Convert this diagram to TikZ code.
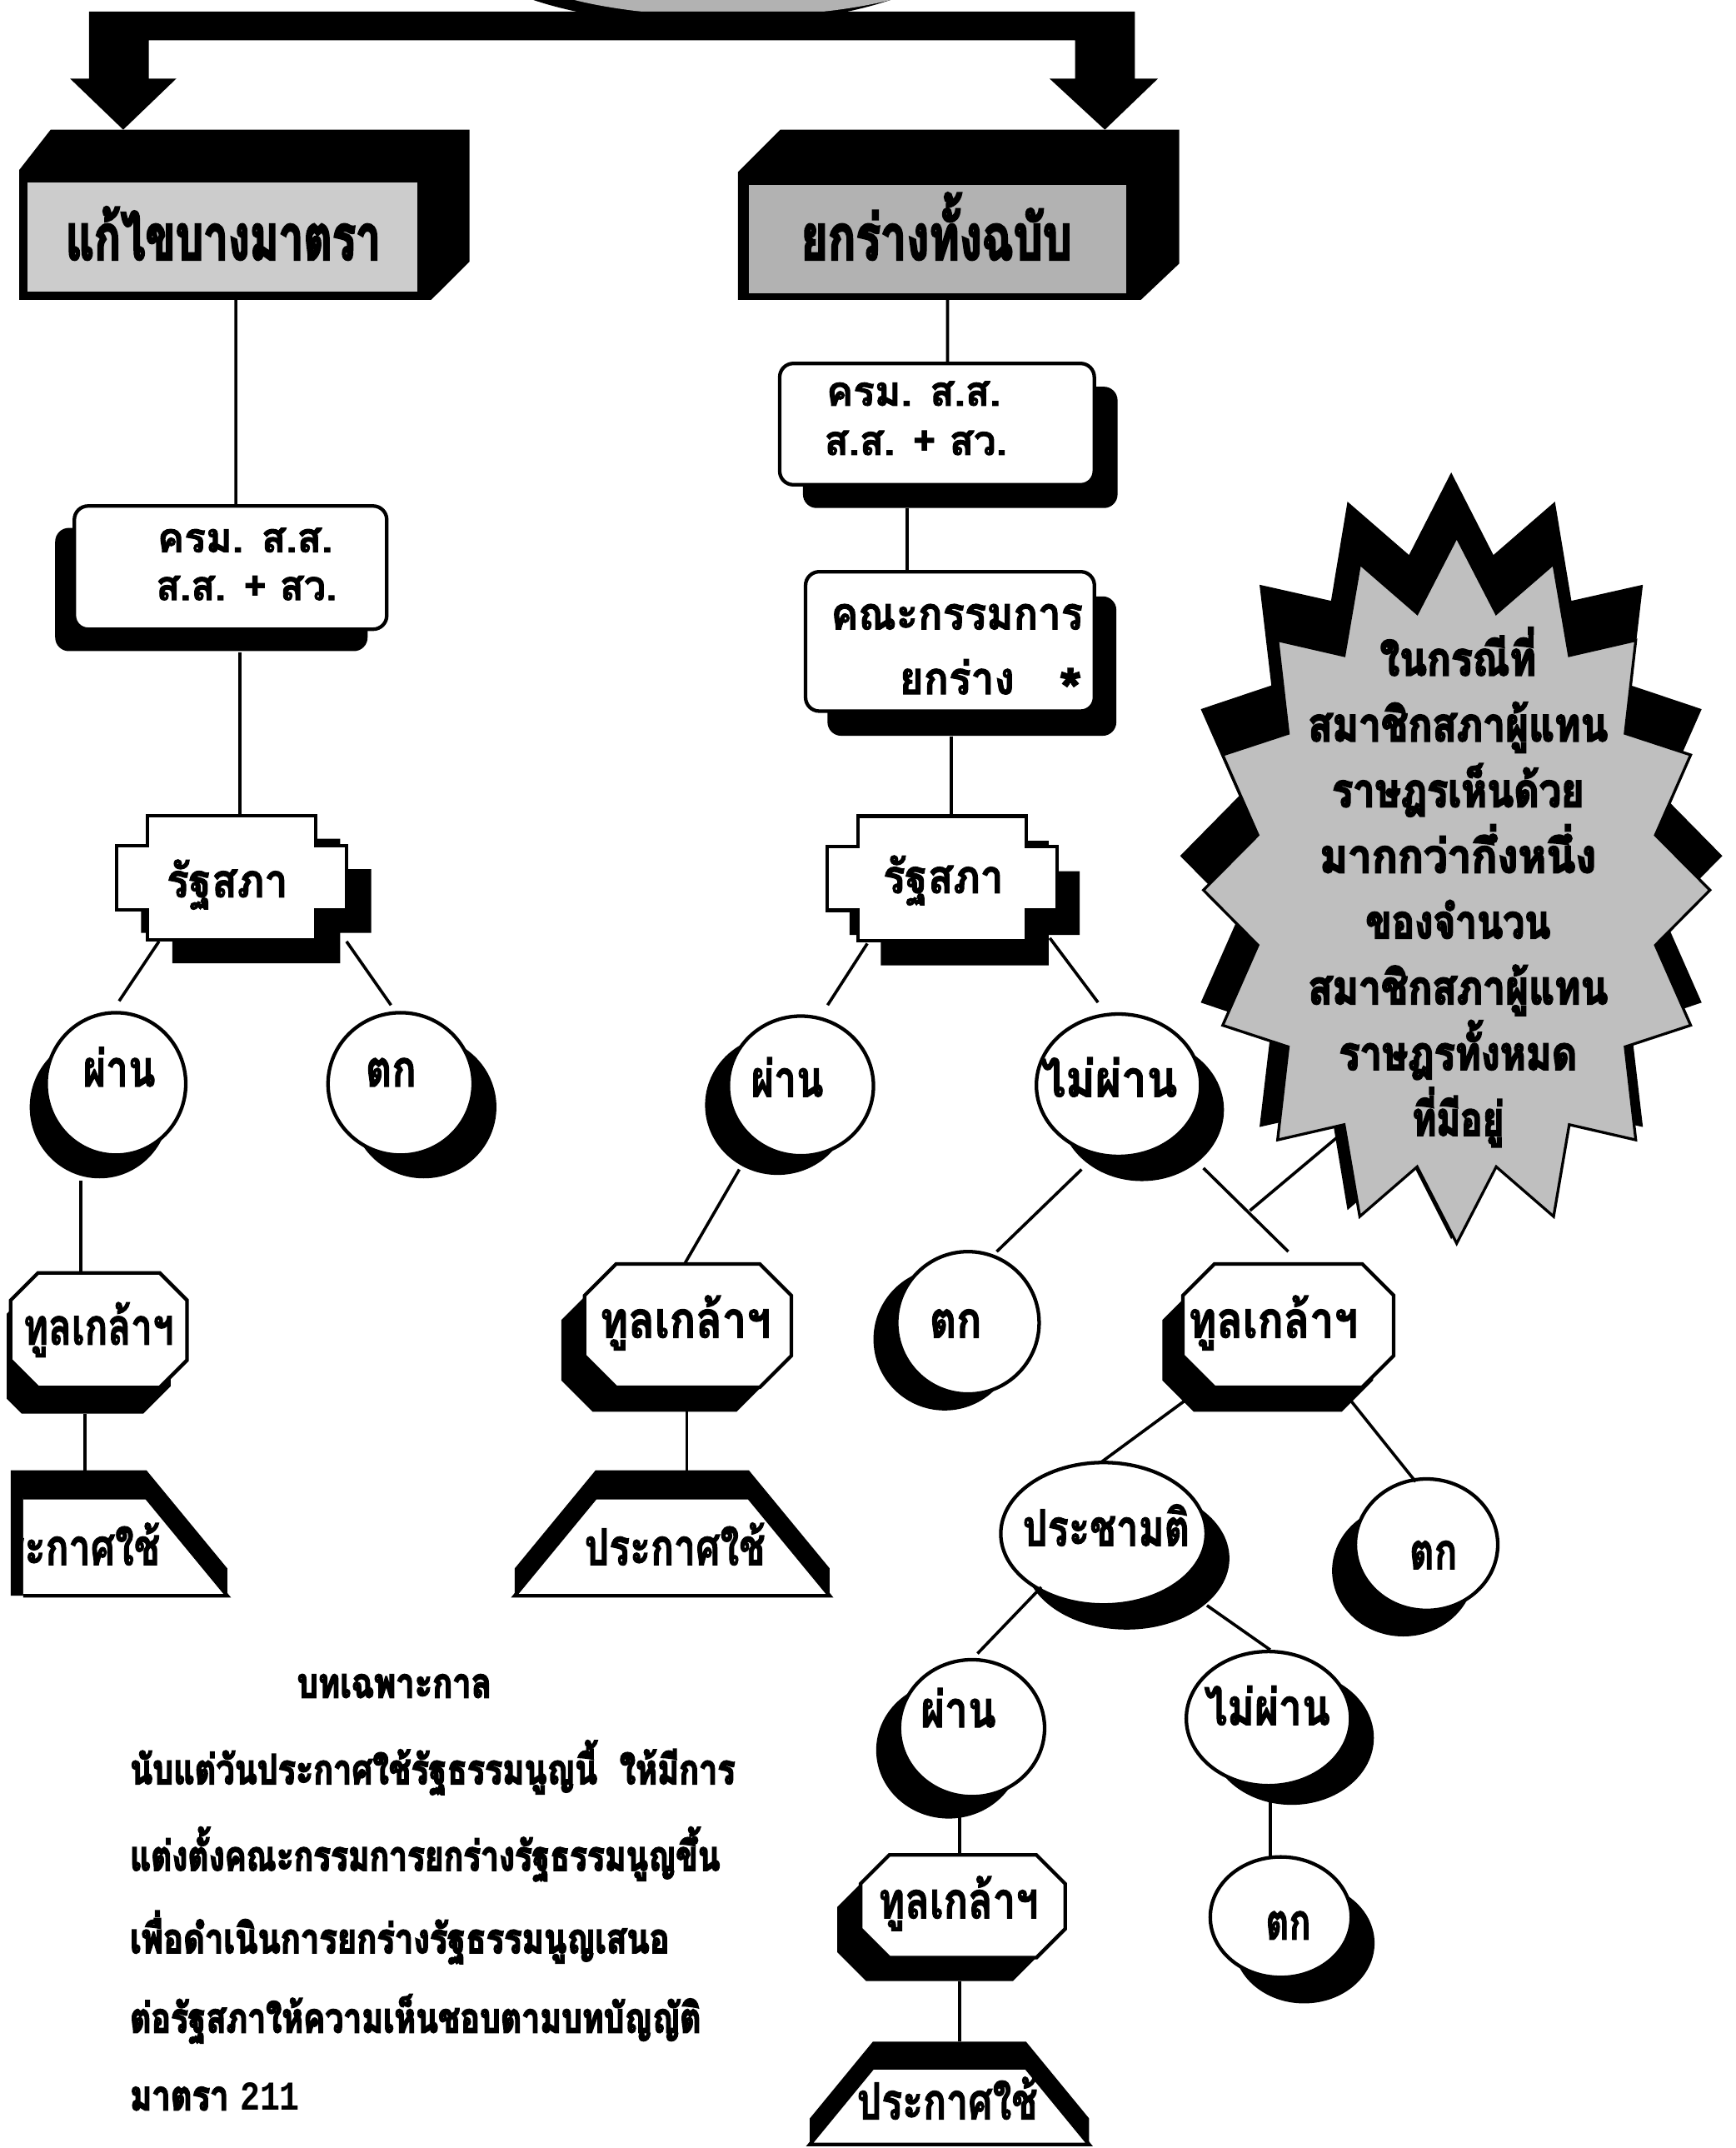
\documentclass[tikz,border=0pt]{standalone}
\usepackage{fontspec}
\usepackage{graphicx}
\newfontfamily\thai[Script=Thai,FakeBold=2]{Loma}
\newfontfamily\thaih[Script=Thai,FakeBold=4]{Loma}
\newfontfamily\monofnt{Liberation Mono}
\usetikzlibrary{shapes.geometric}

\tikzset{
  conn/.style={line width=2.2pt},
  outl/.style={line width=2.6pt},
  hit/.style={inner sep=0pt, outer sep=0pt},
}

% label: [anchor]{name}{x}{y of letter body centre}{font size}{width}{text}
\newcommand\mylab[7][base]{\node[anchor=#1,inner sep=0pt,outer sep=0pt] (#2) at ({#3},{#4+0.24*#5}) {\thai\bfseries\fontsize{#5pt}{#5pt}\selectfont\resizebox{#6pt}{\height}{#7}};}
\newcommand\mylabh[7][base]{\node[anchor=#1,inner sep=0pt,outer sep=0pt] (#2) at ({#3},{#4+0.24*#5}) {\thaih\bfseries\fontsize{#5pt}{#5pt}\selectfont\resizebox{#6pt}{\height}{#7}};}

% oval with solid shadow: name cx cy rx ry sx sy
\newcommand\myoval[7]{%
  \fill[black,shift={(#6,#7)}] (#2,#3) ellipse [x radius=#4, y radius=#5];
  \draw[outl,fill=white] (#2,#3) ellipse [x radius=#4, y radius=#5];
  \node[hit,ellipse,minimum width={2*#4},minimum height={2*#5}] (#1) at (#2,#3) {};}

% octagon: name cx cy hw hh chamfer sx sy
\newcommand\myocto[8]{%
 \begin{scope}[shift={(#2,#3)}]
  \fill[black,shift={(#7,#8)}] ({-#4+#6},{-#5}) -- ({#4-#6},{-#5}) -- (#4,{-#5+#6}) -- (#4,{#5-#6}) -- ({#4-#6},#5) -- ({-#4+#6},#5) -- ({-#4},{#5-#6}) -- ({-#4},{-#5+#6}) -- cycle;
  \draw[outl,fill=white] ({-#4+#6},{-#5}) -- ({#4-#6},{-#5}) -- (#4,{-#5+#6}) -- (#4,{#5-#6}) -- ({#4-#6},#5) -- ({-#4+#6},#5) -- ({-#4},{#5-#6}) -- ({-#4},{-#5+#6}) -- cycle;
  \node[hit,minimum width={2*#4},minimum height={2*#5}] (#1) at (0,0) {};
 \end{scope}}

% rounded box: name cx cy hw hh sx sy
\newcommand\myrbox[7]{%
  \fill[black,rounded corners=10pt,shift={(#6,#7)}] ({#2-#4},{#3-#5}) rectangle ({#2+#4},{#3+#5});
  \draw[outl,fill=white,rounded corners=10pt] ({#2-#4},{#3-#5}) rectangle ({#2+#4},{#3+#5});
  \node[hit,minimum width={2*#4},minimum height={2*#5}] (#1) at (#2,#3) {};}

% cross-shaped box: name cx cy sx sy
\newcommand\mycross[5]{%
 \begin{scope}[shift={(#2,#3)}]
  \fill[black,shift={(#4,#5)}] (-61.3,-45.5) -- (61.3,-45.5) -- (61.3,-23.3) -- (84,-23.3) -- (84,23.3) -- (61.3,23.3) -- (61.3,45.5) -- (-61.3,45.5) -- (-61.3,23.3) -- (-84,23.3) -- (-84,-23.3) -- (-61.3,-23.3) -- cycle;
  \draw[outl,fill=white] (-61.3,-45.5) -- (61.3,-45.5) -- (61.3,-23.3) -- (84,-23.3) -- (84,23.3) -- (61.3,23.3) -- (61.3,45.5) -- (-61.3,45.5) -- (-61.3,23.3) -- (-84,23.3) -- (-84,-23.3) -- (-61.3,-23.3) -- cycle;
  \node[hit,minimum width=168pt,minimum height=91pt] (#1) at (0,0) {};
 \end{scope}}

% trapezoid with black band above: name cx ytop ybot halftop halfbot shift
\newcommand\mytrap[7]{%
 \begin{scope}[shift={(#2,0)}]
  \fill[black] ({-#5},{#3-#7}) -- (#5,{#3-#7}) -- (#6,{#4-#7}) -- (#6,#4) -- ({-#6},#4) -- ({-#6},{#4-#7}) -- cycle;
  \draw[outl,fill=white] ({-#5},#3) -- (#5,#3) -- (#6,#4) -- ({-#6},#4) -- cycle;
  \node[hit,minimum width={2*#6},minimum height={#4-#3+#7}] (#1) at (0,{(#3-#7+#4)/2}) {};
 \end{scope}}

\begin{document}
\begin{tikzpicture}[x=1pt,y=-1pt]
\useasboundingbox (0,0) rectangle (1268,1568.6);
\begin{scope}
\clip (5,0) rectangle (1268,1568.6);

% ---- top blob and the two big arrows
\fill[black] (520,-40) ellipse [x radius=180, y radius=58];
\fill[black!30] (535,-30) ellipse [x radius=165, y radius=42];
\fill[black] (65,8.5) -- (829,8.5) -- (829,57.4) -- (845.8,57.4) -- (807,94.7) -- (766.6,57.4) -- (785.3,57.4) -- (785.3,29.5) -- (108.7,29.5) -- (108.7,57.4) -- (128.8,57.4) -- (90,94.7) -- (51.2,57.4) -- (65,57.4) -- cycle;

% ---- 3D boxes
\fill[black] (14,124.2) -- (37,94.7) -- (343,94.7) -- (343,191) -- (315,218.9) -- (14,218.9) -- cycle;
\fill[black!20] (20.2,133.5) rectangle (305,212.7);
\node[hit,minimum width=296pt,minimum height=94.7pt] (boxA) at (162,171.55) {};
\fill[black] (539,125.7) -- (570,94.7) -- (861.3,94.7) -- (861.3,192.5) -- (833.4,218.9) -- (539,218.9) -- cycle;
\fill[black!30] (547,135) rectangle (822.5,214);
\node[hit,minimum width=290.2pt,minimum height=93.2pt] (boxB) at (683.6,172.3) {};
\mylabh{tA}{163}{178.5}{46}{230}{แก้ไขบางมาตรา}
\mylabh{tB}{684}{178.5}{46}{198}{ยกร่างทั้งฉบับ}

% ---- left column
\myrbox{krmL}{168.4}{414.5}{114.1}{45}{-14}{16}
\mylab{tkL1}{179}{396}{30}{128}{ครม. ส.ส.}
\mylab{tkL2}{180}{431}{30}{132}{ส.ส. + สว.}
\mycross{rsL}{169.1}{641}{18}{17}
\mylab{trsL}{166}{647}{34}{88.5}{รัฐสภา}
\myoval{pL}{84.7}{791.5}{51}{52}{-12}{17}
\mylab{tpL}{87}{784.5}{37}{53}{ผ่าน}
\myoval{tL}{292.6}{791.5}{53}{52}{17}{17}
\mylab{ttL}{285.6}{784.5}{37}{37}{ตก}
\myocto{tuL}{72.2}{971.4}{64.4}{41.9}{20}{-12}{19}
\mylab{ttuL}{72}{973}{37}{110}{ทูลเกล้าฯ}
% truncated trapezoid at the left edge
\begin{scope}
 \clip (7.8,1060) rectangle (250,1175);
 \fill[black] (-5,1073.7) -- (107,1073.7) -- (166,1145.3) -- (166,1165.3) -- (-64,1165.3) -- cycle;
\end{scope}
\begin{scope}
 \clip (17,1080) rectangle (250,1175);
 \draw[outl,fill=white] (-5,1093.7) -- (107,1093.7) -- (166,1165.3) -- (-64,1165.3) -- cycle;
 \mylab{tprL}{51}{1134}{37}{132}{ประกาศใช้}
\end{scope}
\node[hit,minimum width=230pt,minimum height=91.6pt] (prL) at (51,1119.5) {};

% ---- centre column
\myrbox{krmR}{684.4}{309.7}{114.9}{44.3}{17}{17}
\mylab[base west]{tkR1}{603.7}{289}{30}{127.3}{ครม. ส.ส.}
\mylab[base west]{tkR2}{602.1}{325}{30}{133.5}{ส.ส. + สว.}
\myrbox{kana}{693.9}{468.4}{105.5}{50.9}{16}{18}
\mylab[base east]{tk1}{791}{451.7}{33}{184}{คณะกรรมการ}
\mylab[base west]{tk2}{657}{499}{33}{84}{ยกร่าง}
\node[anchor=base,inner sep=0pt] (tk3) at (782,520) {\thai\bfseries\fontsize{44pt}{44pt}\selectfont *};
\mycross{rsR}{688.1}{641.5}{16.5}{18}
\mylab{trsR}{689}{644}{34}{88}{รัฐสภา}
\myoval{pR}{585}{793}{53}{51}{-17}{14}
\mylab{tpR}{575}{792}{37}{53}{ผ่าน}
\myoval{npR}{817}{792.5}{60}{52}{17}{18}
\mylab{tnpR}{810}{792}{37}{100}{ไม่ผ่าน}
\myocto{tuC}{502.5}{968}{75.5}{45}{23}{-17}{18}
\mylab{ttuC}{500.6}{968}{37}{125}{ทูลเกล้าฯ}
\mytrap{prC}{491}{1093.7}{1165.3}{56}{115}{20}
\mylab{tprC}{493}{1134}{37}{132}{ประกาศใช้}
\myoval{tC}{707}{966}{52}{52}{-17}{12}
\mylab{ttC}{698}{968}{37}{38}{ตก}
\myocto{tuR}{941}{968}{77}{45}{23}{-15}{18}
\mylab{ttuR}{930}{968}{37}{124}{ทูลเกล้าฯ}
\myoval{pcR}{806}{1120}{75}{52}{17}{18}
\mylab{tpcR}{808}{1120}{37}{122}{ประชามติ}
\myoval{tR}{1042}{1128}{52}{48}{-17}{19}
\mylab{ttR}{1047}{1137}{37}{35}{ตก}
\myoval{pRR}{710}{1262}{53}{50}{-17}{16}
\mylab{tpRR}{700}{1252.5}{37}{55}{ผ่าน}
\myoval{npRR}{926.5}{1255}{60}{49}{17}{14}
\mylab{tnpRR}{925.6}{1250.8}{37}{92}{ไม่ผ่าน}
\myocto{tuRR}{703.3}{1392.1}{74.7}{37.5}{21}{-17}{17}
\mylab{ttuRR}{700}{1392}{37}{117}{ทูลเกล้าฯ}
\myoval{tRR}{935.5}{1400}{51.5}{44}{17}{19}
\mylab{ttRR}{941}{1407.5}{37}{33}{ตก}
\mytrap{prRR}{693.5}{1510}{1566}{56}{102}{19}
\mylab{tprRR}{692}{1538.7}{37}{132}{ประกาศใช้}

% ---- starburst
\begin{scope}[shift={(1060,625)}]
 \fill[black] (0,-280) \foreach \i in {1,...,31}{ -- ({(178+20*cos(\i*180))*sin(\i*11.25)},{-(252+28*cos(\i*180))*cos(\i*11.25)}) } -- cycle;
\end{scope}
\begin{scope}[shift={(1064,650)}]
 \filldraw[fill=black!25,draw=black,line width=2pt,line join=miter] (0,-258) \foreach \i in {1,...,31}{ -- ({(166.5+18.5*cos(\i*180))*sin(\i*11.25)},{-(232+26*cos(\i*180))*cos(\i*11.25)}) } -- cycle;
\end{scope}
\node[hit,ellipse,minimum width=370pt,minimum height=516pt] (star) at (1064,650) {};
\mylabh{s1}{1065}{485}{34}{114}{ในกรณีที่}
\mylabh{s2}{1065}{533}{34}{219}{สมาชิกสภาผู้แทน}
\mylabh{s3}{1065}{581}{34}{184}{ราษฎรเห็นด้วย}
\mylabh{s4}{1065}{629}{34}{202}{มากกว่ากึ่งหนึ่ง}
\mylabh{s5}{1065}{677}{34}{135}{ของจำนวน}
\mylabh{s6}{1065}{725}{34}{219}{สมาชิกสภาผู้แทน}
\mylabh{s7}{1065}{773}{34}{174}{ราษฎรทั้งหมด}
\mylabh{s8}{1065}{821}{34}{67}{ที่มีอยู่}

% ---- connectors
\draw[conn] ([shift={(10.3,0)}]boxA.south) -- ([shift={(3.9,0)}]krmL.north);
\draw[conn] ([shift={(6.8,17)}]krmL.south) -- ([shift={(6.1,0)}]rsL.north);
\draw[conn] ([shift={(-53,1)}]rsL.south) -- ([shift={(2.3,-8.5)}]pL.north);
\draw[conn] ([shift={(84,1)}]rsL.south) -- ([shift={(-7,-5.5)}]tL.north);
\draw[conn] ([shift={(-25.7,18.5)}]pL.south) -- ([shift={(-13.2,0)}]tuL.north);
\draw[conn] ([shift={(-10.2,19.2)}]tuL.south) -- ([shift={(11,0)}]prL.north);
\draw[conn] ([shift={(8.5,0)}]boxB.south) -- ([shift={(7.7,0)}]krmR.north);
\draw[conn] ([shift={(-21.8,17.1)}]krmR.south) -- ([shift={(-31.3,0)}]kana.north);
\draw[conn] ([shift={(1.1,18.3)}]kana.south) -- ([shift={(6.9,0)}]rsR.north);
\draw[conn] ([shift={(-54.6,2)}]rsR.south) -- ([shift={(19.5,-8)}]pR.north);
\draw[conn] ([shift={(78.7,-2)}]rsR.south) -- ([shift={(-15,-8.5)}]npR.north);
\draw[conn] ([shift={(-45,10)}]pR.south) -- ([shift={(-2.5,0)}]tuC.north);
\draw[conn] ([shift={(-0.8,18)}]tuC.south) -- ([shift={(10.7,0)}]prC.north);
\draw[conn] ([shift={(-27,9.5)}]npR.south) -- ([shift={(21,0)}]tC.north);
\draw[conn] ([shift={(62,8.5)}]npR.south) -- ([shift={(0,-9)}]tuR.north);
\coordinate (cl) at (913,884);
\draw[conn] (cl) -- ([shift={(-3,-50)}]star.250);
\draw[conn] ([shift={(-74.4,9)}]tuR.south) -- ([shift={(-1.3,-0.5)}]pcR.north);
\draw[conn] ([shift={(45,9)}]tuR.south) -- ([shift={(-8,2)}]tR.north);
\draw[conn] ([shift={(-45.4,-13)}]pcR.south) -- ([shift={(4,-4.5)}]pRR.north);
\draw[conn] ([shift={(75.6,0.4)}]pcR.south) -- ([shift={(1.3,-1.2)}]npRR.north);
\draw[conn] ([shift={(-9,0)}]pRR.south) -- ([shift={(-2.3,0)}]tuRR.north);
\draw[conn] ([shift={(1.5,5)}]npRR.south) -- ([shift={(-7.5,0)}]tRR.north);
\draw[conn] ([shift={(-2.3,17.4)}]tuRR.south) -- ([shift={(7.5,0)}]prRR.north);

% ---- transitional provision text
\mylabh{nt0}{288}{1232.4}{30}{142}{บทเฉพาะกาล}
\mylabh[base west]{nt1}{95}{1295.5}{30}{442}{นับแต่วันประกาศใช้รัฐธรรมนูญนี้\ \ ให้มีการ}
\mylabh[base west]{nt2}{95}{1358.7}{30}{431}{แต่งตั้งคณะกรรมการยกร่างรัฐธรรมนูญขึ้น}
\mylabh[base west]{nt3}{95}{1419}{30}{394}{เพื่อดำเนินการยกร่างรัฐธรรมนูญเสนอ}
\mylabh[base west]{nt4}{95}{1477}{30}{417}{ต่อรัฐสภาให้ความเห็นชอบตามบทบัญญัติ}
\mylabh[base west]{nt5}{95}{1533.7}{30}{124}{มาตรา {\monofnt 211}}
\end{scope}
\end{tikzpicture}
\end{document}
